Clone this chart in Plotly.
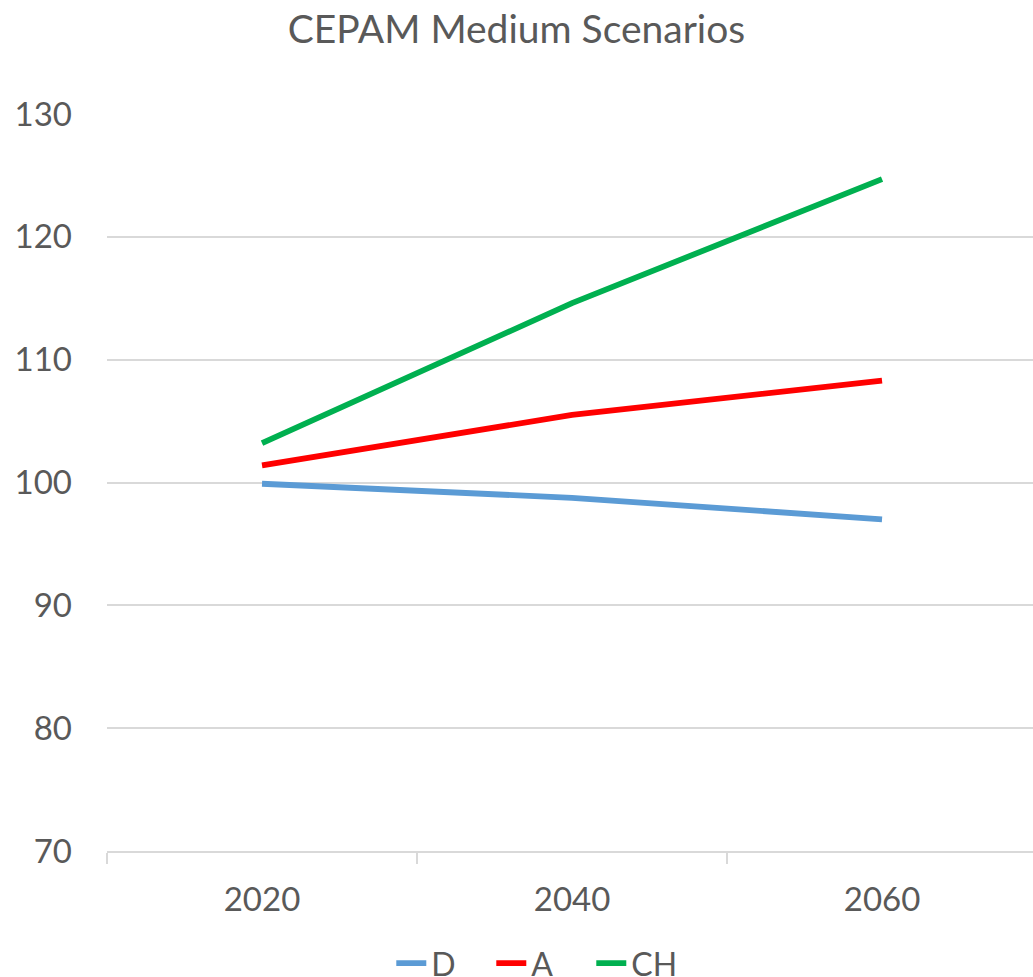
import plotly.graph_objects as go

years = ["2020", "2040", "2060"]
d_vals = [99.9, 98.75, 97.0]
a_vals = [101.4, 105.5, 108.3]
ch_vals = [103.2, 114.6, 124.7]

series_names = ["D", "A", "CH"]
series_colors = ["#5B9BD5", "#FF0000", "#00B050"]
series_vals = [d_vals, a_vals, ch_vals]

FONT = "Lato"
TXT = "#595959"
GRID = "#D9D9D9"

fig = go.Figure()
for name, vals, col in zip(series_names, series_vals, series_colors):
    fig.add_trace(go.Scatter(x=years, y=vals, name=name, mode="lines",
                             line=dict(color=col, width=5.8)))

fig.update_layout(
    width=1033, height=977,
    margin=dict(l=107, r=0, t=114, b=126),
    paper_bgcolor="white", plot_bgcolor="white",
    font=dict(family=FONT, color=TXT, size=33),
    title=dict(text="CEPAM Medium Scenarios", x=0.5, xanchor="center",
               xref="container", yref="container", y=0.970, yanchor="middle",
               font=dict(family=FONT, size=39, color=TXT)),
    showlegend=True,
    legend=dict(orientation="h", x=0.524, xanchor="center", xref="container",
                yref="container", y=0.014, yanchor="middle",
                font=dict(family=FONT, size=32, color=TXT),
                entrywidth=55, entrywidthmode="pixels",
                tracegroupgap=0, bgcolor="rgba(0,0,0,0)"),
)
fig.update_xaxes(type="category", range=[-0.5, 2.487], showgrid=False,
                 showline=True, linecolor=GRID, linewidth=1.5,
                 ticks="outside", tickson="boundaries", ticklen=11,
                 tickcolor=GRID, tickwidth=1.5, ticklabelstandoff=19,
                 tickfont=dict(family=FONT, size=33, color=TXT), zeroline=False)
fig.update_yaxes(range=[70, 130], dtick=10, tick0=70, showgrid=True,
                 gridcolor=GRID, gridwidth=1.5, showline=False, zeroline=False,
                 ticks="", ticklabelstandoff=34,
                 tickfont=dict(family=FONT, size=33, color=TXT))

fig.write_html("out.html", config={"displayModeBar": False},
               post_script="document.body.style.margin='0';document.body.style.overflow='hidden';")
